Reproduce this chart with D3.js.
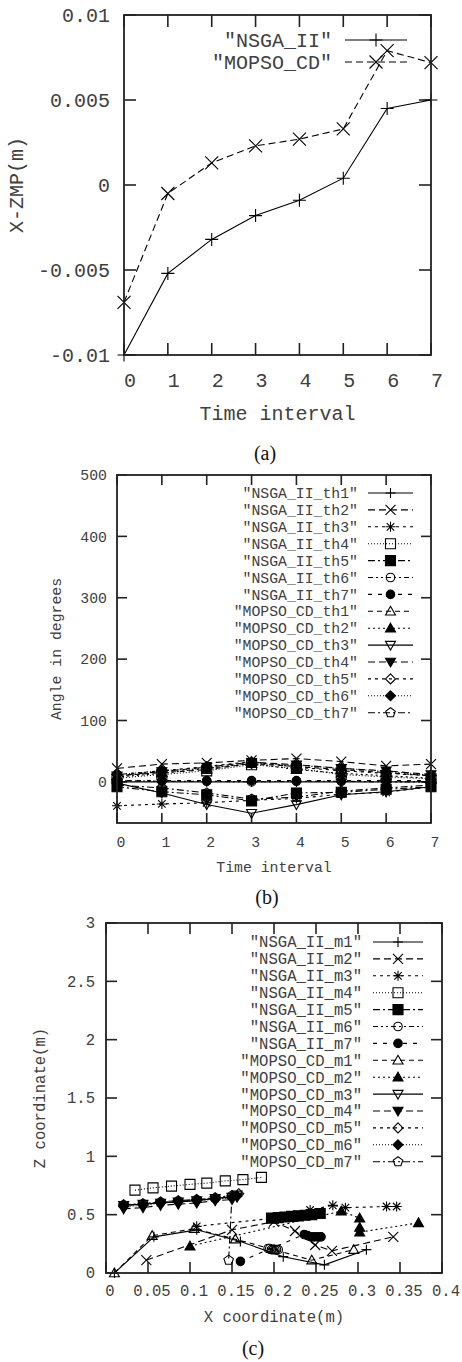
<!DOCTYPE html>
<html><head><meta charset="utf-8">
<script src="https://cdn.jsdelivr.net/npm/d3@7"></script>
<style>body{margin:0;background:#fff}svg{display:block}</style>
</head><body>
<svg id="chart" width="462" height="1362"></svg>
<script>
// ---------- Panel (a) data ----------
const timeSteps = [0,1,2,3,4,5,6,7];
const zmpNSGA = [-0.0100,-0.0052,-0.0032,-0.0018,-0.0009,0.0004,0.0045,0.0050];
const zmpMOPSO = [-0.0069,-0.0005,0.0013,0.0023,0.0027,0.0033,0.0079,0.0072];
const namesA = ['"NSGA_II"','"MOPSO_CD"'];
const yTicksA = [-0.01,-0.005,0,0.005,0.01];
const yTickLabelsA = ["-0.01","-0.005","0","0.005","0.01"];
const xTicksT = [0,1,2,3,4,5,6,7];

// ---------- Panel (b) data (angles in degrees) ----------
const thNSGA1 = [0,0,0,0,0,0,0,0];
const thNSGA2 = [22,29,31,35,38,33,26,29];
const thNSGA3 = [-39,-36,-34,-30,-27,-20,-17,-8];
const thNSGA4 = [6,12,18,28,22,12,8,5];
const thNSGA5 = [-8,-16,-21,-31,-18,-17,-12,-8];
const thNSGA6 = [2,1,1,0,1,1,0,0];
const thNSGA7 = [2,2,2,2,2,2,2,2];
const thMOPSO1 = [10,15,20,30,25,20,15,10];
const thMOPSO2 = [8,14,22,30,20,14,10,6];
const thMOPSO3 = [-2,-18,-37,-51,-37,-21,-16,-8];
const thMOPSO4 = [10,17,24,32,28,22,18,12];
const thMOPSO5 = [12,18,25,33,24,18,14,10];
const thMOPSO6 = [12,18,22,30,27,22,17,11];
const thMOPSO7 = [-5,-10,-18,-28,-25,-15,-10,-5];
const namesB = ['"NSGA_II_th1"','"NSGA_II_th2"','"NSGA_II_th3"','"NSGA_II_th4"','"NSGA_II_th5"','"NSGA_II_th6"','"NSGA_II_th7"',
  '"MOPSO_CD_th1"','"MOPSO_CD_th2"','"MOPSO_CD_th3"','"MOPSO_CD_th4"','"MOPSO_CD_th5"','"MOPSO_CD_th6"','"MOPSO_CD_th7"'];
const yTicksB = [0,100,200,300,400,500];

// ---------- Panel (c) data (x, z coordinates in m) ----------
const mNSGA1x = [0.010,0.057,0.108,0.160,0.211,0.260,0.310];
const mNSGA1z = [0.00,0.31,0.37,0.27,0.14,0.07,0.20];
const mNSGA2x = [0.048,0.150,0.200,0.225,0.249,0.269,0.342];
const mNSGA2z = [0.11,0.37,0.44,0.36,0.24,0.19,0.31];
const mNSGA3x = [0.108,0.200,0.243,0.270,0.285,0.334,0.346];
const mNSGA3z = [0.40,0.47,0.54,0.58,0.56,0.57,0.57];
const mNSGA4x = [0.0345,0.056,0.078,0.100,0.120,0.142,0.163,0.185];
const mNSGA4z = [0.71,0.73,0.745,0.76,0.77,0.79,0.80,0.82];
const mNSGA5x = [0.197,0.205,0.213,0.221,0.229,0.237,0.245,0.255];
const mNSGA5z = [0.47,0.475,0.48,0.485,0.49,0.495,0.50,0.51];
const mNSGA6x = [0.193,0.195,0.197,0.199,0.201,0.203,0.205];
const mNSGA6z = [0.21,0.21,0.20,0.20,0.20,0.20,0.20];
const mNSGA7x = [0.160,0.236,0.240,0.244,0.248,0.252,0.256];
const mNSGA7z = [0.10,0.33,0.32,0.31,0.31,0.31,0.31];
const mMOPSO1x = [0.010,0.055,0.105,0.154,0.200,0.245,0.295];
const mMOPSO1z = [0.00,0.32,0.38,0.29,0.20,0.11,0.20];
const mMOPSO2x = [0.100,0.280,0.302,0.302,0.302,0.372];
const mMOPSO2z = [0.23,0.53,0.47,0.39,0.35,0.43];
const mMOPSO3x = [0.021,0.044,0.065,0.086,0.108,0.130,0.150,0.156];
const mMOPSO3z = [0.58,0.59,0.60,0.61,0.62,0.64,0.65,0.67];
const mMOPSO4x = [0.021,0.044,0.065,0.086,0.108,0.130,0.150,0.156];
const mMOPSO4z = [0.55,0.56,0.58,0.59,0.60,0.62,0.63,0.65];
const mMOPSO5x = [0.021,0.044,0.065,0.086,0.108,0.130,0.150,0.158];
const mMOPSO5z = [0.58,0.59,0.605,0.615,0.625,0.64,0.655,0.68];
const mMOPSO6x = [0.021,0.044,0.065,0.086,0.108,0.130,0.150,0.156];
const mMOPSO6z = [0.57,0.58,0.60,0.61,0.62,0.63,0.645,0.66];
const mMOPSO7x = [0.021,0.044,0.065,0.086,0.108,0.130,0.150,0.146];
const mMOPSO7z = [0.585,0.595,0.61,0.62,0.63,0.645,0.665,0.11];
const namesC = ['"NSGA_II_m1"','"NSGA_II_m2"','"NSGA_II_m3"','"NSGA_II_m4"','"NSGA_II_m5"','"NSGA_II_m6"','"NSGA_II_m7"',
  '"MOPSO_CD_m1"','"MOPSO_CD_m2"','"MOPSO_CD_m3"','"MOPSO_CD_m4"','"MOPSO_CD_m5"','"MOPSO_CD_m6"','"MOPSO_CD_m7"'];
const xTicksC = [0,0.05,0.1,0.15,0.2,0.25,0.3,0.35,0.4];
const xTickLabelsC = ["0","0.05","0.1","0.15","0.2","0.25","0.3","0.35","0.4"];
const yTicksC = [0,0.5,1,1.5,2,2.5,3];
const yTickLabelsC = ["0","0.5","1","1.5","2","2.5","3"];

// ---------- styles ----------
const dashes = [null,"7,4","3,4","1,2","7,3,2,3","5,3,2,3,2,3","4,6","5,4","2,3"];
const markerTypes = ["plus","cross","star","square","squareFill","circle","circleFill",
  "tri","triFill","itri","itriFill","diamond","diamondFill","pent"];
const MONO = "'Liberation Mono','DejaVu Sans Mono',monospace";
const SERIF = "'Liberation Serif','Times New Roman',serif";
const TXT = "#404040";

const svg = d3.select("#chart");

function markerPath(t, s) {
  switch (t) {
    case "plus": return `M${-s},0H${s}M0,${-s}V${s}`;
    case "cross": return `M${-s},${-s}L${s},${s}M${-s},${s}L${s},${-s}`;
    case "star": { const k = s*0.75; return `M${-s},0H${s}M0,${-s}V${s}M${-k},${-k}L${k},${k}M${-k},${k}L${k},${-k}`; }
    case "square": case "squareFill": return `M${-s},${-s}H${s}V${s}H${-s}Z`;
    case "tri": case "triFill": return `M0,${-s}L${s},${s*0.75}L${-s},${s*0.75}Z`;
    case "itri": case "itriFill": return `M0,${s}L${s},${-s*0.75}L${-s},${-s*0.75}Z`;
    case "diamond": case "diamondFill": return `M0,${-s}L${s},0L0,${s}L${-s},0Z`;
    case "pent": {
      let p = [];
      for (let i = 0; i < 5; i++) { const a = -Math.PI/2 + i*2*Math.PI/5; p.push([s*Math.cos(a), s*Math.sin(a)]); }
      return "M" + p.map(q => q[0].toFixed(2)+","+q[1].toFixed(2)).join("L") + "Z";
    }
  }
  return "";
}
function drawMarker(g, t, cx, cy, s) {
  if (t === "circle" || t === "circleFill") {
    g.append("circle").attr("cx", cx).attr("cy", cy).attr("r", s*0.85)
      .attr("fill", t === "circleFill" ? "#000" : "none").attr("stroke", "#000").attr("stroke-width", 1.1);
    return;
  }
  const filled = /Fill$/.test(t);
  g.append("path").attr("transform", `translate(${cx},${cy})`).attr("d", markerPath(t, s))
    .attr("fill", filled ? "#000" : "none").attr("stroke", "#000").attr("stroke-width", 1.1);
}

function panel(c) {
  const g = svg.append("g");
  const x = d3.scaleLinear().domain(c.xDomain).range([c.left, c.right]);
  const y = d3.scaleLinear().domain(c.yDomain).range([c.bottom, c.top]);
  // ticks (inward, mirrored)
  const tk = g.append("g").attr("stroke", "#222").attr("stroke-width", 1.6);
  c.xTicks.forEach(v => {
    tk.append("line").attr("x1", x(v)).attr("x2", x(v)).attr("y1", c.bottom).attr("y2", c.bottom - c.tick);
    tk.append("line").attr("x1", x(v)).attr("x2", x(v)).attr("y1", c.top).attr("y2", c.top + c.tick);
  });
  c.yTicks.forEach(v => {
    tk.append("line").attr("x1", c.left).attr("x2", c.left + c.tick).attr("y1", y(v)).attr("y2", y(v));
    tk.append("line").attr("x1", c.right).attr("x2", c.right - c.tick).attr("y1", y(v)).attr("y2", y(v));
  });
  // tick labels
  const tl = g.append("g").attr("font-family", MONO).attr("font-size", c.fs).attr("fill", TXT);
  c.xTicks.forEach((v, i) => tl.append("text").attr("x", x(v) + c.xLabOff).attr("y", c.xTickBase)
    .attr("text-anchor", "middle").text(c.xTickLabels[i]));
  c.yTicks.forEach((v, i) => tl.append("text").attr("x", c.left - c.yLabGap).attr("y", y(v)).attr("dy", "0.35em")
    .attr("text-anchor", "end").text(c.yTickLabels[i]));
  // axis titles
  tl.append("text").attr("x", (c.left + c.right) / 2).attr("y", c.xTitleBase).attr("text-anchor", "middle").text(c.xTitle);
  tl.append("text").attr("transform", `translate(${c.yTitleX},${(c.top + c.bottom) / 2}) rotate(-90)`)
    .attr("text-anchor", "middle").attr("dy", "0.35em").text(c.yTitle);
  // series
  const line = d3.line().x(d => x(d[0])).y(d => y(d[1]));
  const sg = g.append("g");
  c.series.forEach(s => {
    const pts = s.xs.map((v, i) => [v, s.ys[i]]);
    sg.append("path").attr("d", line(pts)).attr("fill", "none").attr("stroke", "#000")
      .attr("stroke-width", 1.1).attr("stroke-dasharray", s.dash);
    pts.forEach(p => drawMarker(sg, s.marker, x(p[0]), y(p[1]), c.ms));
  });
  // legend
  const lg = g.append("g");
  c.series.forEach((s, i) => {
    const ly = c.legY0 + i * c.legDy;
    lg.append("text").attr("x", c.legTextRight).attr("y", ly).attr("dy", "0.35em").attr("text-anchor", "end")
      .attr("font-family", MONO).attr("font-size", c.fs).attr("fill", TXT).text(s.name);
    lg.append("line").attr("x1", c.legX0).attr("x2", c.legX1).attr("y1", ly).attr("y2", ly)
      .attr("stroke", "#000").attr("stroke-width", 1.1).attr("stroke-dasharray", s.dash);
    drawMarker(lg, s.marker, (c.legX0 + c.legX1) / 2, ly, c.ms);
  });
  // frame
  g.append("rect").attr("x", c.left).attr("y", c.top).attr("width", c.right - c.left).attr("height", c.bottom - c.top)
    .attr("fill", "none").attr("stroke", "#222").attr("stroke-width", 1.8);
  // caption
  svg.append("text").attr("x", c.capX).attr("y", c.capY).attr("text-anchor", "middle")
    .attr("font-family", SERIF).attr("font-size", 20).attr("fill", "#111").text(c.caption);
}

// Panel (a)
panel({
  left: 124, right: 431, top: 15, bottom: 355, xDomain: [0, 7], yDomain: [-0.01, 0.01],
  xTicks: xTicksT, xTickLabels: xTicksT.map(String), yTicks: yTicksA, yTickLabels: yTickLabelsA,
  tick: 12, fs: 20, xLabOff: 6, yLabGap: 14, xTickBase: 387, xTitleBase: 420, yTitleX: 16,
  xTitle: "Time interval", yTitle: "X-ZMP(m)", ms: 6.5,
  series: [
    { name: namesA[0], xs: timeSteps, ys: zmpNSGA, marker: "plus", dash: dashes[0] },
    { name: namesA[1], xs: timeSteps, ys: zmpMOPSO, marker: "cross", dash: dashes[1] }
  ],
  legY0: 40, legDy: 22, legTextRight: 332, legX0: 345, legX1: 407,
  caption: "(a)", capX: 265, capY: 460
});

// Panel (b)
const thAll = [thNSGA1, thNSGA2, thNSGA3, thNSGA4, thNSGA5, thNSGA6, thNSGA7,
  thMOPSO1, thMOPSO2, thMOPSO3, thMOPSO4, thMOPSO5, thMOPSO6, thMOPSO7];
panel({
  left: 117, right: 431, top: 475, bottom: 823, xDomain: [0, 7], yDomain: [-67, 500],
  xTicks: xTicksT, xTickLabels: xTicksT.map(String), yTicks: yTicksB, yTickLabels: yTicksB.map(String),
  tick: 10, fs: 14.8, xLabOff: 4, yLabGap: 10, xTickBase: 847, xTitleBase: 872, yTitleX: 56,
  xTitle: "Time interval", yTitle: "Angle in degrees", ms: 5,
  series: thAll.map((ys, i) => ({ name: namesB[i], xs: timeSteps, ys, marker: markerTypes[i], dash: dashes[i % 9] })),
  legY0: 493, legDy: 16.9, legTextRight: 358, legX0: 368, legX1: 413,
  caption: "(b)", capX: 267, capY: 904
});

// Panel (c)
const mAll = [[mNSGA1x, mNSGA1z], [mNSGA2x, mNSGA2z], [mNSGA3x, mNSGA3z], [mNSGA4x, mNSGA4z], [mNSGA5x, mNSGA5z],
  [mNSGA6x, mNSGA6z], [mNSGA7x, mNSGA7z], [mMOPSO1x, mMOPSO1z], [mMOPSO2x, mMOPSO2z], [mMOPSO3x, mMOPSO3z],
  [mMOPSO4x, mMOPSO4z], [mMOPSO5x, mMOPSO5z], [mMOPSO6x, mMOPSO6z], [mMOPSO7x, mMOPSO7z]];
panel({
  left: 106, right: 442, top: 923, bottom: 1273, xDomain: [0, 0.4], yDomain: [0, 3],
  xTicks: xTicksC, xTickLabels: xTickLabelsC, yTicks: yTicksC, yTickLabels: yTickLabelsC,
  tick: 11, fs: 15.6, xLabOff: 4, yLabGap: 11, xTickBase: 1296, xTitleBase: 1322, yTitleX: 40,
  xTitle: "X coordinate(m)", yTitle: "Z coordinate(m)", ms: 5,
  series: mAll.map((d, i) => ({ name: namesC[i], xs: d[0], ys: d[1], marker: markerTypes[i], dash: dashes[i % 9] })),
  legY0: 942, legDy: 16.9, legTextRight: 362, legX0: 373, legX1: 423,
  caption: "(c)", capX: 253, capY: 1355
});
</script>
</body></html>
